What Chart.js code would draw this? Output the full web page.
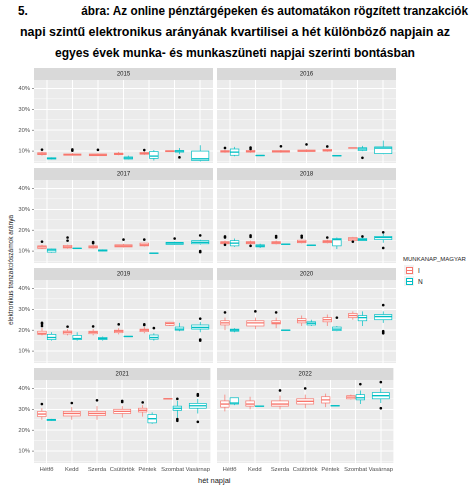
<!DOCTYPE html>
<html><head><meta charset="utf-8">
<script src="https://cdn.jsdelivr.net/npm/chart.js@4"></script>
<style>
body{margin:0;background:#fff;width:474px;height:488px;position:relative;overflow:hidden;font-family:"Liberation Sans",Arial,sans-serif}
.t{position:absolute;font-weight:bold;font-size:13px;white-space:nowrap;transform-origin:0 0;color:#000}
canvas{position:absolute}
.sm{position:absolute;font-size:6.5px;color:#1a1a1a;white-space:nowrap}
.key{position:absolute;width:10px;height:10px;background:#f2f2f2}
.key div{position:absolute;left:2px;top:2px;width:5px;height:5px;border:0.8px solid;background:#fff}
.key span{position:absolute;left:2px;top:4.5px;width:6.5px;height:0;border-top:0.9px solid}
</style></head><body>
<div class="t" id="t1" style="left:18px;top:3px"><span style="display:inline-block;width:70px">5.</span>ábra: Az online pénztárgépeken és automatákon rögzített tranzakciók</div>
<div class="t" id="t2" style="left:20px;top:24px">napi szintű elektronikus arányának kvartilisei a hét különböző napjain az</div>
<div class="t" id="t3" style="left:55px;top:45px">egyes évek munka- és munkaszüneti napjai szerinti bontásban</div>
<div class="sm" style="left:10px;top:270px;transform:translate(-50%,-50%) rotate(-90deg);font-size:6.5px">elektronikus tranzakciószámok aránya</div>
<div class="sm" style="left:198px;top:476px;font-size:7.5px">hét napjai</div>
<div class="sm" style="left:403px;top:256px;font-size:6px">MUNKANAP_MAGYAR</div>
<div class="key" style="left:404px;top:265px"><div style="border-color:#F8766D"></div><span style="border-color:#F8766D"></span></div>
<div class="sm" style="left:418px;top:267px">I</div>
<div class="key" style="left:404px;top:276px"><div style="border-color:#00BFC4"></div><span style="border-color:#00BFC4"></span></div>
<div class="sm" style="left:418px;top:278px">N</div>
<script>
const days=["Hétfő","Kedd","Szerda","Csütörtök","Péntek","Szombat","Vasárnap"];
const years=[2015,2016,2017,2018,2019,2020,2021,2022];
const yTicks=[10,20,30,40];
const yMinor=[5,15,25,35];
// [min,q1,median,q3,max,[outliers]] per day, null = no data
const I2015=[[7.8,8.3,8.7,9.2,9.8,[10.7]],[7.8,8,8.3,8.6,9,[10.2,10.8]],[7.6,7.8,8.2,8.6,8.9,[10.6]],[8,8.3,8.6,9,9.6,[]],[8.2,8.5,8.9,9.3,9.8,[10.5]],[9.6,9.7,10,10.2,10.3,[]],null];
const N2015=[[6,6.2,6.5,6.8,7,[]],null,null,[6,6.2,6.7,7.2,7.8,[]],[5.5,6.5,7.6,9.8,10.5,[]],[8.5,9.5,10,10.3,11.5,[7]],[5,5.5,6.3,10,12.8,[]]];
const I2016=[[9.2,9.5,9.8,10.2,10.6,[11.5]],[9.2,9.5,9.8,10.3,10.6,[11,11.7]],[9.2,9.5,9.8,10.2,10.6,[12.3]],[9.5,9.8,10.1,10.5,10.9,[13.2]],[9.7,10,10.3,10.8,11,[12.2]],[11.4,11.5,11.5,11.6,11.7,[]],null];
const N2016=[[7.5,8,9.5,11,12,[]],[7.7,7.8,7.9,8,8.1,[]],null,null,[7.7,7.8,7.8,7.9,8,[]],[10,10.3,11,11.6,12.5,[6.8]],[8.5,8.8,11.4,12,15,[]]];
const I2017=[[11,11.3,12,12.5,13,[14.5]],[11.2,11.5,12,12.7,13,[15,16.5]],[11.2,11.5,12,12.5,13,[13.8,14.3]],[11.7,12,12.5,13,13.5,[15.5]],[12.2,12.5,13,13.8,14,[15.5]],null,null];
const N2017=[[9.2,9.5,10.5,11,11.2,[]],[11.1,11.2,11.3,11.4,11.5,[]],[9.8,10,10.3,10.6,10.8,[]],null,[8.9,9,9,9.1,9.2,[]],[13,13.2,13.8,14.2,14.5,[16]],[13,13.5,14.2,15,15.5,[17.5,9.5,10]]];
const I2018=[[13.2,13.5,14,14.5,15,[16.5,17,13]],[13.2,13.5,14,14.5,15,[16.8,17.5,12.5]],[13.2,13.5,14,14.5,15,[16.5,17.2]],[13.7,14,14.5,15.2,15.5,[16.5,17.3]],[13.7,14,14.5,15,15.5,[16.5]],[14.8,15,15.8,16.5,16.8,[14.5]],null];
const N2018=[[12,12.5,13.8,15,16,[]],[11.5,12,12.5,13,13.5,[]],[13.2,13.3,13.3,13.4,13.5,[]],[12.7,12.8,12.8,12.9,13,[]],[11,12.5,15.5,16,16.5,[]],[14.8,15,15.5,16,16.5,[17]],[14,15.5,16.5,17,18.5,[19,11.5]]];
const I2019=[[17.5,18,18.5,19.5,21,[22,23,23.5]],[17.5,18.2,19,19.6,20.5,[21.7]],[17.5,18.3,19,19.5,20.5,[21.8]],[18,18.8,19.5,20,21,[22.8]],[18.5,19.3,20,20.5,21.5,[22.5,22.8]],[22,22.3,23.2,23.8,24,[]],null];
const N2019=[[15,15.5,16.5,18,19,[]],[15,15.5,16,17.5,19,[]],[15,15.5,16,16.5,17,[]],[16.9,17,17,17.1,17.2,[]],[15,15.7,16.5,17.7,18.5,[21]],[19.5,20,20.5,21.5,23.5,[]],[19,20.5,21.3,22.5,24,[25.5,15,15.5]]];
const I2020=[[20,22.5,23.5,24.5,26,[28.5]],[20.5,22,23.5,24.5,26,[29]],[21,23,23.5,24.5,26,[28.5]],[22,23.5,24.5,25.5,27,[]],[22,24,25,26,27.5,[]],[25,26,27,28,29,[]],null];
const N2020=[[19,19.5,20,20.5,21,[]],null,[19.8,19.9,20,20.1,20.2,[]],[22,22.5,23.3,24,25,[]],[19.5,19.8,20.5,21.5,22,[26]],[22,24.5,26,27,29,[]],[23.5,25,26.5,27.5,29,[32,18.5,19,19.5]]];
const I2021=[[25,26.5,27.7,29,30.5,[32.5]],[25,26.8,28,29,31,[33]],[25,27,28,29,31.5,[34.3]],[26,28,29,30,31.5,[33.5,34]],[26.5,28.7,29.5,30.5,32,[33.3]],[34.9,35,35,35.1,35.2,[]],null];
const N2021=[[24.4,24.6,25,25.2,25.4,[]],null,null,null,[23,23.5,25.5,27.5,28.5,[]],[26,29.5,30.5,31.5,34,[35,24.5,25.3]],[28,30.5,31.7,32.8,35,[36.5,37.2,24]]];
const I2022=[[29,31,32.5,34,37,[]],[30,31.5,32.5,34,36,[]],[30,31.5,32.5,34,36.5,[39]],[30.5,32.5,33.8,35,37,[40]],[31,33,34.5,36,37.5,[]],[34.7,35,35.8,36.5,37,[]],null];
const N2022=[[32,32.5,33,35.5,35.5,[]],[31.3,31.4,31.5,31.6,31.7,[]],null,null,[31.5,31.6,31.7,31.8,31.9,[]],[32.5,34.5,35.5,37,39,[42]],[33,35,36.5,38,40,[43,30.5]]];
const dataI=[I2015,I2016,I2017,I2018,I2019,I2020,I2021,I2022];
const dataN=[N2015,N2016,N2017,N2018,N2019,N2020,N2021,N2022];

function fit(id,w){const e=document.getElementById(id);const r=e.getBoundingClientRect().width;e.style.transform='scaleX('+(w/r)+')';}
fit('t1',450);fit('t2',430);fit('t3',360);

const boxPlugin={id:'box',
 beforeDatasetsDraw(c){const a=c.chartArea,x=c.ctx,ys=c.scales.y,o=c.options.plugins.box;x.save();
  x.strokeStyle='#fff';x.lineWidth=0.45;yMinor.forEach(v=>{const py=ys.getPixelForValue(v);x.beginPath();x.moveTo(a.left,py);x.lineTo(a.right,py);x.stroke();});
  x.fillStyle='#D9D9D9';x.fillRect(a.left,a.top-12,a.width,12);x.fillStyle='#1a1a1a';x.font='6px "Liberation Sans"';x.textAlign='center';x.textBaseline='middle';
  x.fillText(o.year,(a.left+a.right)/2,a.top-6);
  if(o.labels){x.fillStyle='#4D4D4D';x.font='5.8px "Liberation Sans"';x.textAlign='right';
   yTicks.forEach(v=>{const py=ys.getPixelForValue(v);x.fillText(v+'%',a.left-4,py);x.strokeStyle='#333';x.lineWidth=0.5;x.beginPath();x.moveTo(a.left-2,py);x.lineTo(a.left,py);x.stroke();});}
  x.restore();},
 beforeDraw(c){const a=c.chartArea,x=c.ctx;x.save();x.fillStyle='#EBEBEB';x.fillRect(a.left,a.top,a.width,a.height);x.restore();},
 afterDatasetsDraw(c){const o=c.options.plugins.box,xs=c.scales.x,ys=c.scales.y,ctx=c.ctx;
  const cw=(xs.right-xs.left)/days.length;
  ctx.save();ctx.beginPath();ctx.rect(c.chartArea.left,c.chartArea.top,c.chartArea.width,c.chartArea.height);ctx.clip();
  days.forEach((d,i)=>{const cx=xs.getPixelForValue(i);const groups=[[o.I[i],'#F8766D'],[o.N[i],'#00BFC4']].filter(g=>g[0]);
   const bw=groups.length==2?cw*0.375:cw*0.75;
   groups.forEach((g,k)=>{const v=g[0];const px=groups.length==2?cx+(k==0?-1:1)*cw*0.1875:cx;const p=t=>ys.getPixelForValue(t);
    ctx.strokeStyle=g[1];ctx.lineWidth=0.7;ctx.beginPath();ctx.moveTo(px,p(v[0]));ctx.lineTo(px,p(v[1]));ctx.moveTo(px,p(v[3]));ctx.lineTo(px,p(v[4]));ctx.stroke();
    ctx.fillStyle='#fff';const t=p(v[3]),b=p(v[1]);ctx.fillRect(px-bw/2*0.9,t,bw*0.9,Math.max(b-t,0.5));ctx.strokeRect(px-bw/2*0.9,t,bw*0.9,Math.max(b-t,0.5));
    ctx.lineWidth=1.3;ctx.beginPath();ctx.moveTo(px-bw/2*0.9,p(v[2]));ctx.lineTo(px+bw/2*0.9,p(v[2]));ctx.stroke();
    ctx.fillStyle='#000';v[5].forEach(q=>{ctx.beginPath();ctx.arc(px,p(q),1.3,0,7);ctx.fill();});});});
  ctx.restore();}};

const rowTop=[68,168,268,368];
years.forEach((yr,n)=>{const col=n%2,row=Math.floor(n/2),bottom=row==3;
 const cv=document.createElement('canvas');const left=col==0?0:217;const w=col==0?213:179;const h=12+83+(bottom?12:0);
 cv.style.left=left+'px';cv.style.top=rowTop[row]+'px';cv.width=w;cv.height=h;
 document.body.appendChild(cv);
 new Chart(cv,{type:'bar',data:{labels:days,datasets:[{data:days.map(()=>null)}]},
  options:{responsive:false,devicePixelRatio:2,animation:false,layout:{padding:{top:12,left:0,right:0,bottom:0}},
   plugins:{legend:{display:false},tooltip:{enabled:false},box:{year:String(yr),I:dataI[n],N:dataN[n],labels:col==0}},
   scales:{x:{grid:{offset:false,color:'#fff',lineWidth:1,drawTicks:false},border:{display:false},
      ticks:{display:bottom,color:'#4D4D4D',font:{size:5.8,family:'Liberation Sans'},maxRotation:0,autoSkip:false,padding:3},
      afterFit:s=>{s.height=bottom?12:0;}},
    y:{min:4.3,max:44,border:{display:false},afterBuildTicks:s=>{s.ticks=yTicks.map(v=>({value:v}));},
      grid:{color:'#fff',lineWidth:1,drawTicks:false},
      ticks:{display:false},
      afterFit:s=>{s.width=col==0?34:0;}}}},
  plugins:[boxPlugin]});});
</script></body></html>
